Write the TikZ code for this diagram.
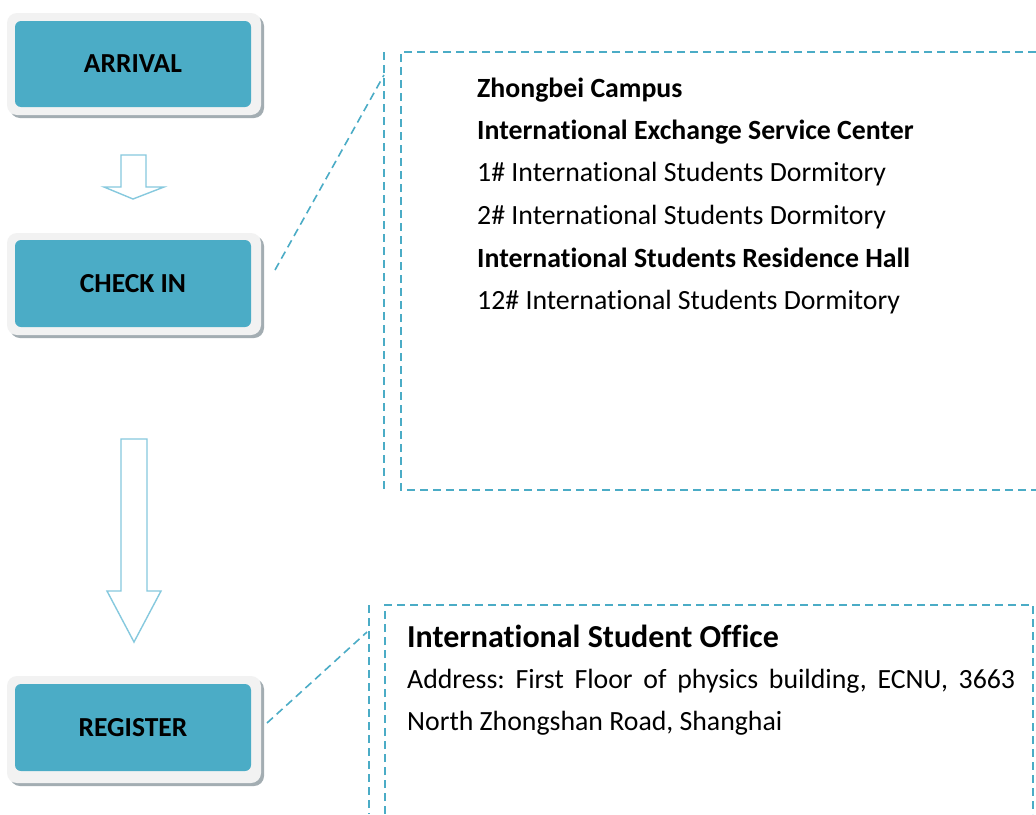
\documentclass[tikz,border=0pt]{standalone}
\usepackage{fontspec}
\setmainfont{Carlito}[RawFeature={-liga}]
\frenchspacing
\definecolor{boxteal}{HTML}{4BACC6}
\definecolor{arrowblue}{HTML}{86C9DE}
\definecolor{framegray}{HTML}{F2F2F2}
\definecolor{shadowgray}{HTML}{A3ADB2}
\definecolor{leadblue}{HTML}{4BACC6}
\tikzset{
  stepshadow/.style={fill=shadowgray, rounded corners=10pt},
  stepframe/.style={fill=framegray, rounded corners=10pt},
  stepbox/.style={fill=boxteal, rounded corners=6pt, minimum width=236pt,
    inner sep=0pt, font=\fontsize{27.5}{33}\selectfont\bfseries, text=black},
  blockarrow/.style={draw=arrowblue, line width=1.4pt, fill=white, line join=miter},
  leader/.style={draw=leadblue, line width=1.6pt, dash pattern=on 8pt off 5pt},
  infotext/.style={anchor=base west, inner sep=0pt, font=\fontsize{27.8}{33}\selectfont},
  infobold/.style={infotext, font=\fontsize{27.8}{33}\selectfont\bfseries},
}
\begin{document}
\begin{tikzpicture}[x=1pt,y=-1pt]
\useasboundingbox (0,0) rectangle (1036,814);
\fill[white] (0,0) rectangle (1036,814);

% ARRIVAL
\fill[stepshadow] (10,16) rectangle (264,118);
\fill[stepframe] (7,13) rectangle (261,115);
\node[stepbox, minimum height=86pt] (arrival) at (133,64) {ARRIVAL};

% CHECK IN
\fill[stepshadow] (10,236) rectangle (264,338);
\fill[stepframe] (7,233) rectangle (261,335);
\node[stepbox, minimum height=87pt] (checkin) at (133,283.5) {CHECK IN};

% REGISTER
\fill[stepshadow] (10,679) rectangle (264,786);
\fill[stepframe] (7,676) rectangle (261,783);
\node[stepbox, minimum height=87pt] (register) at (133,727.5) {REGISTER};

% block arrows
\draw[blockarrow] (121,155) -- (146,155) -- (146,187) -- (164,187) -- (133,199)
  -- (104,187) -- (121,187) -- cycle;
\draw[blockarrow] (121,439) -- (147,439) -- (147,591) -- (161,591) -- (134,642)
  -- (107,591) -- (121,591) -- cycle;

% top callout
\draw[leader] (1036,52) -- (401,52) -- (401,490) -- (1036,490);
\draw[leader] (384,52) -- (384,490);
\coordinate (ckA) at (275,270);
\coordinate (ckB) at (384,75);
\draw[leader] (ckA) -- (ckB);

\node[infobold] (t1) at (477,97) {Zhongbei Campus};
\node[infobold] (t2) at (477,139) {International Exchange Service Center};
\node[infotext] (t3) at (477,181) {1\# International Students Dormitory};
\node[infotext] (t4) at (477,224) {2\# International Students Dormitory};
\node[infobold] (t5) at (477,267) {International Students Residence Hall};
\node[infotext] (t6) at (477,309) {12\# International Students Dormitory};

% bottom callout
\draw[leader] (385,814) -- (385,605) -- (1033,605) -- (1033,814);
\draw[leader] (369,605) -- (369,814);
\coordinate (rgA) at (267,723);
\coordinate (rgB) at (367,632);
\draw[leader] (rgA) -- (rgB);

\node[anchor=base west, inner sep=0pt, font=\fontsize{32}{38}\selectfont\bfseries] (b1) at (407,647) {International Student Office};
\node[infotext] (b2) at (407,688) {\makebox[608pt][s]{Address: First Floor of physics building, ECNU, 3663}};
\node[infotext] (b3) at (407,730) {North Zhongshan Road, Shanghai};
\end{tikzpicture}
\end{document}
